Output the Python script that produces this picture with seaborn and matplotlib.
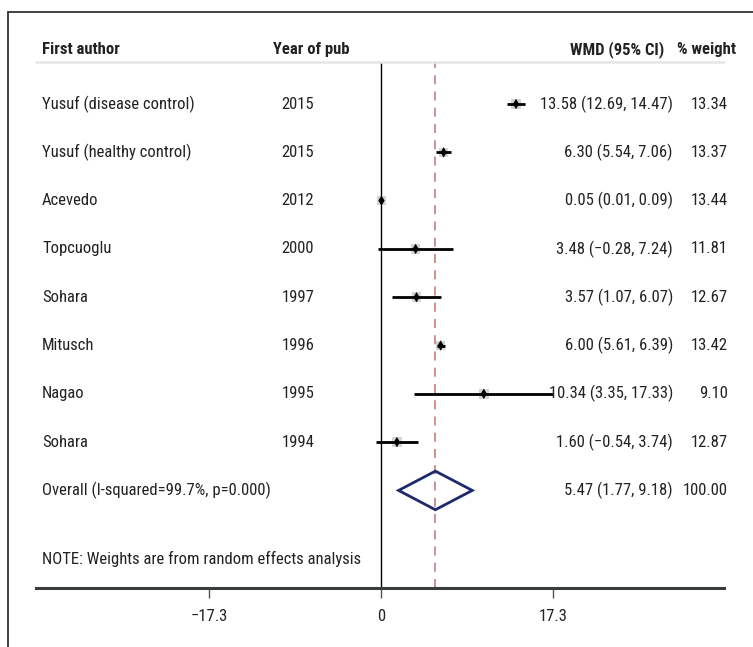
import pandas as pd
import matplotlib
matplotlib.use('Agg')
import matplotlib.pyplot as plt
import seaborn as sns
from matplotlib import font_manager
from matplotlib.patches import Polygon
from matplotlib.lines import Line2D

#data
authors = ['Yusuf (disease control)', 'Yusuf (healthy control)', 'Acevedo', 'Topcuoglu',
           'Sohara', 'Mitusch', 'Nagao', 'Sohara']
years = ['2015', '2015', '2012', '2000', '1997', '1996', '1995', '1994']
wmd = [13.58, 6.30, 0.05, 3.48, 3.57, 6.00, 10.34, 1.60]
ci_low = [12.69, 5.54, 0.01, -0.28, 1.07, 5.61, 3.35, -0.54]
ci_high = [14.47, 7.06, 0.09, 7.24, 6.07, 6.39, 17.33, 3.74]
weights = [13.34, 13.37, 13.44, 11.81, 12.67, 13.42, 9.10, 12.87]
overall = [5.47, 1.77, 9.18, 100.00]
overall_label = 'Overall (I-squared=99.7%, p=0.000)'
note = 'NOTE: Weights are from random effects analysis'
xticks = [-17.3, 0, 17.3]

df = pd.DataFrame({'author': authors, 'year': years, 'wmd': wmd,
                   'lo': ci_low, 'hi': ci_high, 'weight': weights})
df['row'] = range(len(df))

sns.set_style('white')
names = {f.name for f in font_manager.fontManager.ttflist}
fam = [f for f in ['Liberation Sans Narrow', 'DejaVu Sans Condensed', 'Roboto Condensed', 'Roboto'] if f in names]
plt.rcParams['font.family'] = fam + ['DejaVu Sans']
txt = '#222222'

W, H = 753, 647
fig = plt.figure(figsize=(W / 100, H / 100), dpi=100)
ax = fig.add_axes([36 / W, 1 - 588 / H, 688 / W, 526 / H])

#rows sit 48.3 px apart, first one at y=104
ax.set_ylim(10.02, -0.87)
ax.set_xlim(-34.7, 34.5)

#CI lines, weight boxes and point estimates
ax.hlines(df['row'], df['lo'], df['hi'], color='black', lw=2, zorder=3)
sns.scatterplot(data=df, x='wmd', y='row', marker='s', s=48, color='#d4d4d4',
                edgecolor='none', ax=ax, zorder=2, legend=False)
sns.scatterplot(data=df, x='wmd', y='row', marker='d', s=28, color='black',
                edgecolor='none', ax=ax, zorder=4, legend=False)

#overall diamond
ov = len(df)
h = 0.40
ax.add_patch(Polygon([(overall[1], ov), (overall[0], ov - h), (overall[2], ov), (overall[0], ov + h)],
                     closed=True, fill=False, edgecolor='#1e2a6e', lw=2, zorder=4))

ax.axvline(0, color='black', lw=1, zorder=1)
ax.axvline(overall[0], color='#c9888e', lw=1.3, ls=(0, (5, 4)), zorder=1)
ax.axhline(-0.87, color='#e6e6e6', lw=1.8, clip_on=False)

#text columns (x in figure pixels)
trans = lambda px: px / W
blend = matplotlib.transforms.blended_transform_factory(fig.transFigure, ax.transData)
fs = 12
head_y = -1.12
ax.text(trans(42), head_y, 'First author', transform=blend, fontsize=fs, weight='bold', color=txt, va='center')
ax.text(trans(273), head_y, 'Year of pub', transform=blend, fontsize=fs, weight='bold', color=txt, va='center')
ax.text(trans(664), head_y, 'WMD (95% CI)', transform=blend, fontsize=fs, weight='bold', color=txt, va='center', ha='right')
ax.text(trans(736), head_y, '% weight', transform=blend, fontsize=fs, weight='bold', color=txt, va='center', ha='right')

for i, r in df.iterrows():
    ax.text(trans(42), r['row'], r['author'], transform=blend, fontsize=fs, color=txt, va='center')
    ax.text(trans(298), r['row'], r['year'], transform=blend, fontsize=fs, color=txt, va='center', ha='center')
    ci = f"{r['wmd']:.2f} ({r['lo']:.2f}, {r['hi']:.2f})".replace('-', '\u2212')
    ax.text(trans(673), r['row'], ci, transform=blend, fontsize=fs, color=txt, va='center', ha='right')
    ax.text(trans(728), r['row'], f"{r['weight']:.2f}", transform=blend, fontsize=fs, color=txt, va='center', ha='right')

ax.text(trans(42), ov, overall_label, transform=blend, fontsize=fs, color=txt, va='center')
ax.text(trans(673), ov, f'{overall[0]:.2f} ({overall[1]:.2f}, {overall[2]:.2f})', transform=blend,
        fontsize=fs, color=txt, va='center', ha='right')
ax.text(trans(728), ov, f'{overall[3]:.2f}', transform=blend, fontsize=fs, color=txt, va='center', ha='right')
ax.text(trans(42), 9.42, note, transform=blend, fontsize=fs, color=txt, va='center')

#axis
sns.despine(ax=ax, left=True, top=True, right=True)
ax.spines['bottom'].set_color('#3a3d3d')
ax.spines['bottom'].set_linewidth(2.2)
ax.set_yticks([])
ax.set_xticks(xticks)
ax.set_xticklabels([f'{t:g}'.replace('-', '\u2212') for t in xticks], fontsize=fs, color=txt)
ax.tick_params(axis='x', direction='out', length=7, width=1, color='#555555', pad=8, bottom=True)
ax.set_xlabel('')
ax.set_ylabel('')

#outer frame (only top and left visible)
fig.add_artist(Line2D([8 / W, 1], [1 - 12 / H, 1 - 12 / H], color='#333333', lw=1.3))
fig.add_artist(Line2D([8 / W, 8 / W], [1 - 12 / H, 0], color='#333333', lw=1.3))

plt.savefig('out.png', dpi=100)
plt.close()
